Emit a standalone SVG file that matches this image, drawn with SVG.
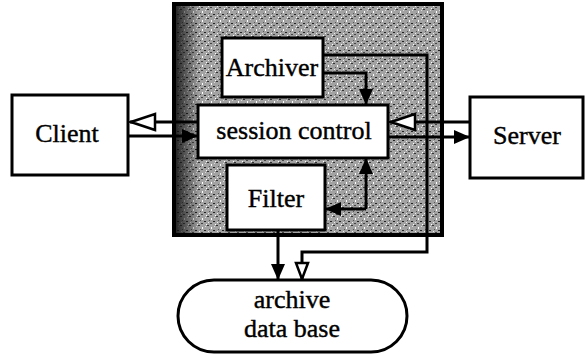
<svg xmlns="http://www.w3.org/2000/svg" width="585" height="358" viewBox="0 0 585 358">
<style>
.box{fill:#fff;stroke:#000;stroke-width:3}
.lbl{font-family:"Liberation Serif","Times New Roman",serif;font-size:26px;fill:#000;stroke:#000;stroke-width:0.4;text-anchor:middle}
.con{fill:none;stroke:#000;stroke-width:3}
</style>
<defs>
<pattern id="noise" width="9" height="9" patternUnits="userSpaceOnUse">
<rect width="9" height="9" fill="#a2a2a2"/>
<rect x="0" y="0" width="2" height="1" fill="#333"/>
<rect x="4" y="2" width="1" height="2" fill="#fff"/>
<rect x="6" y="5" width="2" height="1" fill="#222"/>
<rect x="1" y="6" width="1" height="1" fill="#eee"/>
<rect x="3" y="7" width="2" height="1" fill="#444"/>
<rect x="7" y="1" width="1" height="1" fill="#ddd"/>
<rect x="2" y="4" width="1" height="1" fill="#555"/>
<rect x="8" y="8" width="1" height="1" fill="#fff"/>
</pattern>
<linearGradient id="lefts" x1="0" y1="0" x2="1" y2="0">
<stop offset="0" stop-color="#111" stop-opacity="0.85"/>
<stop offset="1" stop-color="#111" stop-opacity="0"/>
</linearGradient>
<marker id="fill" viewBox="0 0 16 14" refX="16" refY="7" markerWidth="16" markerHeight="14" markerUnits="userSpaceOnUse" orient="auto">
<path d="M0,0 L16,7 L0,14 Z" fill="#000"/>
</marker>
<marker id="hollow" viewBox="0 0 28 20" refX="27" refY="10" markerWidth="28" markerHeight="20" markerUnits="userSpaceOnUse" orient="auto">
<path d="M2,2 L26,10 L2,18 Z" fill="#fff" stroke="#000" stroke-width="2.5"/>
</marker>
<marker id="hollowS" viewBox="0 0 20 16" refX="19" refY="8" markerWidth="20" markerHeight="16" markerUnits="userSpaceOnUse" orient="auto">
<path d="M2,2 L18,8 L2,14 Z" fill="#fff" stroke="#000" stroke-width="2.5"/>
</marker>
</defs>
<g id="system">
<rect x="174" y="4" width="268" height="231" fill="url(#noise)" stroke="#000" stroke-width="4"/>
<rect x="176" y="6" width="24" height="227" fill="url(#lefts)"/>
</g>
<g id="connectors">
<path class="con" d="M205,122 H130" marker-end="url(#hollow)"/>
<path class="con" d="M128,136 H198" marker-end="url(#fill)"/>
<path class="con" d="M470,122 H390" marker-end="url(#hollow)"/>
<path class="con" d="M388,137 H470" marker-end="url(#fill)"/>
<path class="con" d="M323,73 H366 V105" marker-end="url(#fill)"/>
<path class="con" d="M323,55 H427 V252 H302 V280" marker-end="url(#hollowS)"/>
<path class="con" d="M278,230 V280" marker-end="url(#fill)"/>
<path class="con" d="M366,209 V158" marker-end="url(#fill)"/>
<path class="con" d="M366,209 H325" marker-end="url(#fill)"/>
</g>
<g id="archiver">
<rect class="box" x="222" y="38" width="101" height="59"/>
<text class="lbl" x="272" y="76" font-size="27">Archiver</text>
</g>
<g id="session">
<rect class="box" x="198" y="105" width="190" height="53"/>
<text class="lbl" x="294" y="139">session control</text>
</g>
<g id="filter">
<rect class="box" x="227" y="165" width="98" height="65"/>
<text class="lbl" x="276" y="207" font-size="27">Filter</text>
</g>
<g id="client">
<rect class="box" x="12" y="95" width="116" height="80"/>
<text class="lbl" x="67" y="142">Client</text>
</g>
<g id="server">
<rect class="box" x="470" y="97" width="113" height="81"/>
<text class="lbl" x="527" y="144">Server</text>
</g>
<g id="database">
<rect class="box" x="178" y="280" width="229" height="72" rx="36" ry="36"/>
<text class="lbl" x="292" y="308">archive</text>
<text class="lbl" x="292" y="337">data base</text>
</g>
</svg>
